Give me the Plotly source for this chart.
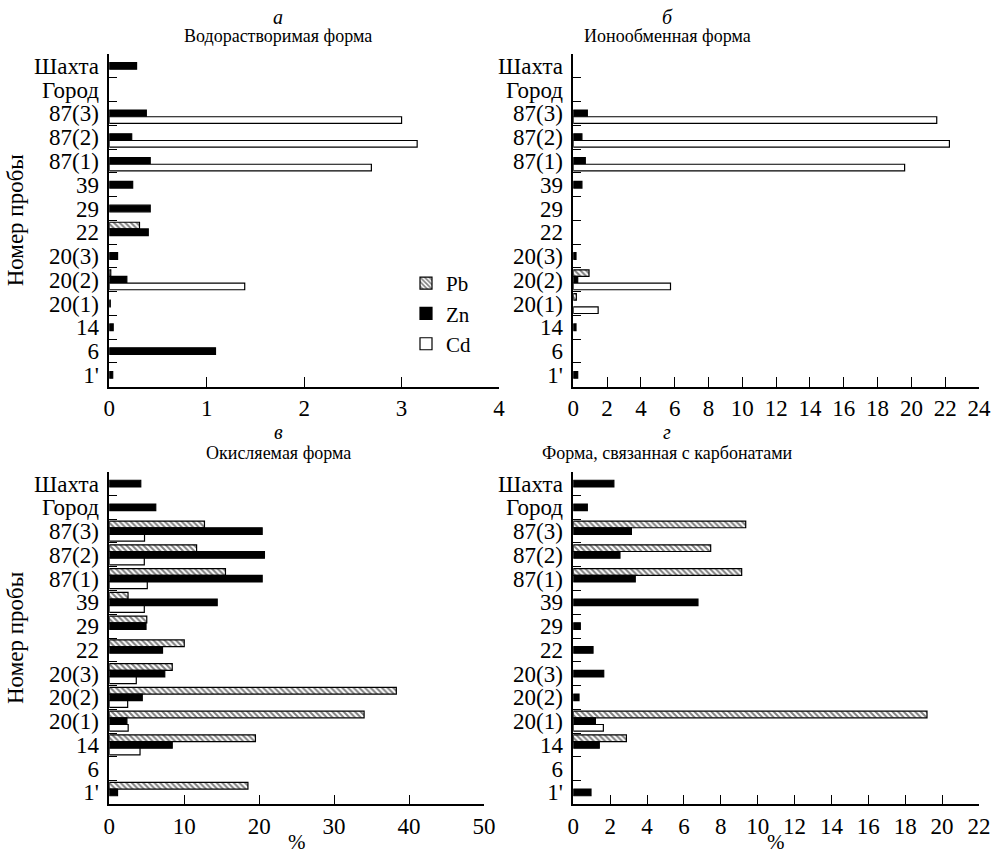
import plotly.graph_objects as go

categories = ["Шахта", "Город", "87(3)", "87(2)", "87(1)", "39", "29", "22",
              "20(3)", "20(2)", "20(1)", "14", "6", "1'"]
series_names = ["Pb", "Zn", "Cd"]

# а – Водорастворимая форма
a_pb = [None, None, None, None, None, None, None, 0.31, None, 0.015, None, None, None, None]
a_zn = [0.28, None, 0.38, 0.23, 0.42, 0.24, 0.42, 0.40, 0.085, 0.18, 0.01, 0.04, 1.09, 0.035]
a_cd = [None, None, 3.00, 3.16, 2.69, None, None, None, None, 1.39, None, None, None, None]

# б – Ионообменная форма
b_pb = [None, None, None, None, None, None, None, None, None, 0.93, 0.18, None, None, None]
b_zn = [None, None, 0.83, 0.51, 0.71, 0.51, None, None, 0.16, 0.26, None, 0.16, None, 0.26]
b_cd = [None, None, 21.5, 22.25, 19.6, None, None, None, None, 5.75, 1.47, None, None, None]

# в – Окисляемая форма
c_pb = [None, None, 12.7, 11.65, 15.5, 2.5, 5.0, 10.0, 8.4, 38.3, 34.0, 19.5, None, 18.5]
c_zn = [4.2, 6.2, 20.4, 20.7, 20.4, 14.4, 4.9, 7.1, 7.4, 4.4, 2.35, 8.4, None, 1.1]
c_cd = [None, None, 4.7, 4.67, 5.07, 4.67, None, None, 3.6, 2.45, 2.52, 4.1, None, None]

# г – Форма, связанная с карбонатами
d_pb = [None, None, 9.35, 7.45, 9.13, None, None, None, None, None, 19.18, 2.88, None, None]
d_zn = [2.2, 0.76, 3.15, 2.53, 3.36, 6.76, 0.38, 1.07, 1.65, 0.31, 1.2, 1.41, None, 0.96]
d_cd = [None, None, None, None, None, None, None, None, None, None, 1.63, None, None, None]

panel_letters = ["а", "б", "в", "г"]
panel_titles = ["Водорастворимая форма", "Ионообменная форма",
                "Окисляемая форма", "Форма, связанная с карбонатами"]
x_ranges = [[0, 4], [0, 24], [0, 50], [0, 22]]
x_dticks = [1, 2, 10, 2]

W, H = 993, 856
FONT = "Liberation Serif"

def px(x):
    return x / W

def py(y):
    return 1 - y / H

# plot area pixel boxes: (left, right, top, bottom)
boxes = [(109.3, 499.0, 54.0, 386.7),
         (573.3, 979.0, 54.0, 386.7),
         (109.3, 484.0, 471.7, 804.3),
         (573.3, 979.0, 471.7, 804.3)]

data = [(a_pb, a_zn, a_cd), (b_pb, b_zn, b_cd), (c_pb, c_zn, c_cd), (d_pb, d_zn, d_cd)]

styles = {
    "Pb": dict(color="white", pattern=dict(shape="\\", fgcolor="black", bgcolor="white", size=4, solidity=0.5)),
    "Zn": dict(color="black"),
    "Cd": dict(color="white"),
}

fig = go.Figure()
for i, vals in enumerate(data):
    xa = "x" if i == 0 else f"x{i+1}"
    ya = "y" if i == 0 else f"y{i+1}"
    for name, v in zip(series_names, vals):
        st = styles[name]
        marker = dict(color=st["color"], line=dict(color="black", width=1.2))
        if "pattern" in st:
            marker["pattern"] = st["pattern"]
        fig.add_trace(go.Bar(
            x=v, y=categories, orientation="h", name=name,
            marker=marker, xaxis=xa, yaxis=ya,
            showlegend=(i == 0), legendgroup=name,
        ))

axis_line = dict(showline=True, linecolor="black", linewidth=1.5, mirror=False,
                 showgrid=False, zeroline=False, automargin=False)
tickfont = dict(family=FONT, size=23, color="black")

layout = dict(
    width=W, height=H,
    margin=dict(l=0, r=0, t=0, b=0, autoexpand=False),
    paper_bgcolor="white", plot_bgcolor="white",
    barmode="group", bargap=0.16, bargroupgap=0,
    font=dict(family=FONT, color="black"),
    showlegend=True,
    legend=dict(x=px(406), y=py(263), xanchor="left", yanchor="top",
                font=dict(family=FONT, size=21, color="black"),
                bgcolor="rgba(0,0,0,0)", tracegroupgap=0, itemwidth=30),
)

annotations = []
for i, (l, r, t, b) in enumerate(boxes):
    sfx = "" if i == 0 else str(i + 1)
    layout["xaxis" + sfx] = dict(
        domain=[px(l), px(r)], anchor="y" + sfx, range=x_ranges[i],
        tickmode="linear", dtick=x_dticks[i], tick0=0, ticks="inside", ticklen=10, tickwidth=1.2,
        tickcolor="black", tickfont=tickfont, ticklabelstandoff=0, **axis_line)
    layout["yaxis" + sfx] = dict(
        domain=[py(b), py(t)], anchor="x" + sfx, type="category",
        categoryorder="array", categoryarray=categories, range=[13.5, -0.5],
        tickmode="array", tickvals=categories, ticktext=categories,
        ticks="inside", tickson="boundaries", ticklen=8, tickwidth=1.2,
        tickcolor="black", tickfont=tickfont, ticklabelstandoff=4, **axis_line)
    cx = 278 if i % 2 == 0 else 667
    top_off = 37 if i < 2 else 40
    title_off = 18 if i < 2 else 19
    annotations.append(dict(text=panel_letters[i], x=px(cx), y=py(t - top_off), xref="paper", yref="paper",
                            showarrow=False, font=dict(family=FONT, size=20, color="black", style="italic"),
                            xanchor="center", yanchor="middle"))
    annotations.append(dict(text=panel_titles[i], x=px(cx), y=py(t - title_off), xref="paper", yref="paper",
                            showarrow=False, font=dict(family=FONT, size=18, color="black"),
                            xanchor="center", yanchor="middle"))
    if i % 2 == 0:
        annotations.append(dict(text="Номер пробы", x=px(15), y=py((t + b) / 2), xref="paper", yref="paper",
                                showarrow=False, textangle=-90,
                                font=dict(family=FONT, size=23, color="black"),
                                xanchor="center", yanchor="middle"))
    if i >= 2:
        annotations.append(dict(text="%", x=px((l + r) / 2), y=py(842), xref="paper", yref="paper",
                                showarrow=False, font=dict(family=FONT, size=21, color="black"),
                                xanchor="center", yanchor="middle"))

layout["annotations"] = annotations
fig.update_layout(**layout)
fig.write_html("out.html", config={"displayModeBar": False},
               post_script="document.body.style.margin='0';")
